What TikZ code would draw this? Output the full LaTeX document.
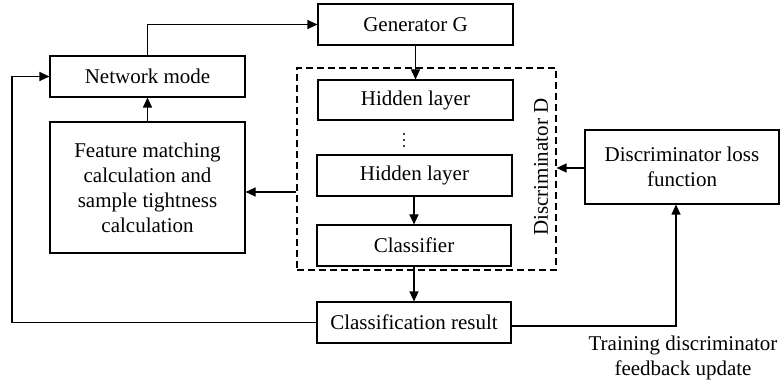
\documentclass[tikz,border=0pt]{standalone}
\usepackage{fontspec}
\setmainfont{Liberation Serif}
\usetikzlibrary{arrows.meta,positioning,calc}
\begin{document}
\begin{tikzpicture}[x=1pt,y=-1pt,
  font=\fontsize{21}{25}\selectfont,
  box/.style={draw, line width=1.1pt, inner sep=0pt, align=center},
  arr/.style={-{Triangle[length=10pt,width=9pt]}, line width=1.1pt},
  ln/.style={line width=1.1pt}]
\useasboundingbox (0,0) rectangle (781,387);
% blocks
\node[box, minimum width=195, minimum height=41] (gen) at (415.5,24.5) {Generator G};
\node[box, minimum width=195, minimum height=41] (net) at (147.5,76.5) {Network mode};
\node[box, minimum width=195, minimum height=131] (feat) at (147.5,187.5)
  {Feature matching\\calculation and\\sample tightness\\calculation};
\node[box, minimum width=195, minimum height=40] (h1) at (415.5,100) {Hidden layer};
% vertical ellipsis between the two hidden layers
\coordinate (dots) at (404,140);
\foreach \dy in {-6,0,6} \fill ($(dots)+(0,\dy)$) circle (1.1);
\node[box, minimum width=195, minimum height=41] (h2) at (414.5,175.5) {Hidden layer};
\node[box, minimum width=194, minimum height=41] (cls) at (414,245.5) {Classifier};
\node[box, minimum width=194, minimum height=41] (res) at (414,322.5) {Classification result};
\node[box, minimum width=194, minimum height=74] (loss) at (682,167) {Discriminator loss\\function};
% discriminator group
\node[draw, dashed, dash pattern=on 7pt off 4pt, line width=1.1pt, inner sep=0pt,
  minimum width=259, minimum height=202] (disc) at (426.5,169) {};
\node[rotate=90] (disclbl) at (541,167) {Discriminator D};
% connections
\draw[arr] (net.north) |- (gen.west);
\draw[arr] (gen.south) -- (h1.north);
\draw[arr] (feat.north) -- (net.south);
\draw[arr] (h2.south -| cls.north) -- (cls.north);
\draw[arr] (cls.south) -- (res.north);
\draw[arr] (disc.west |- 0,192) -- (feat.east |- 0,192);
\draw[arr] (loss.west |- 0,168) -- (disc.east |- 0,168);
\coordinate (lc) at (12,0);
\draw[arr] (res.west) -| (lc |- 0,322.5) |- (net.west);
\draw[arr] (res.east |- 0,326) -| (loss.south -| 676,0);
\node[align=center] (train) at (683,358) {Training discriminator\\feedback update};
\end{tikzpicture}
\end{document}
